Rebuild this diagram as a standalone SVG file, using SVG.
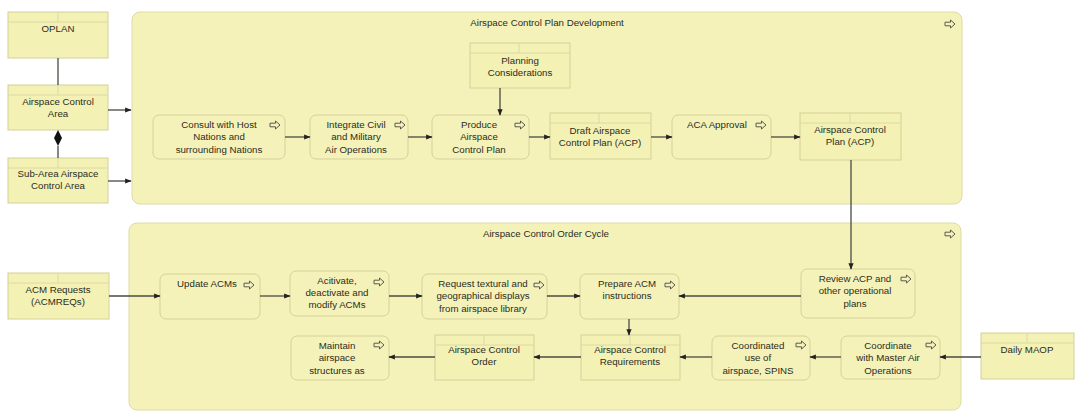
<svg xmlns="http://www.w3.org/2000/svg" xmlns:xlink="http://www.w3.org/1999/xlink" width="1076" height="412" viewBox="0 0 1076 412">
<style>
.grp{fill:#f4f2b9;stroke:#dedaa4;stroke-width:1}
.proc{fill:#f4f2b9;stroke:#d4d09a;stroke-width:1}
.obj{fill:#f3f1b3;stroke:#d4d09a;stroke-width:1}
.hdr{stroke:#dcd8a6;stroke-width:1;fill:none}
.t{font-family:"Liberation Sans",Arial,sans-serif;font-size:9.7px;fill:#2c2c22;text-anchor:middle}
.c{stroke:#4a4a42;stroke-width:1.3;fill:none}
.icon{fill:none;stroke:#5a5a50;stroke-width:1}
</style>
<defs>
<marker id="arr" viewBox="0 0 10 10" refX="9" refY="5" markerWidth="5" markerHeight="5" orient="auto"><path d="M0,1 L10,5 L0,9 Z" fill="#222"/></marker>
<path id="pi" d="M-5,-1.8 H0.5 V-4 L5,0 L0.5,4 V1.8 H-5 Z"/>
</defs>
<rect width="1076" height="412" fill="#ffffff"/>

<g id="grp-acpd">
<rect class="grp" x="132" y="12" width="830" height="192" rx="8"/>
<text class="t" x="547" y="26">Airspace Control Plan Development</text>
<use href="#pi" class="icon" x="950" y="24"/>
</g>
<g id="grp-acoc">
<rect class="grp" x="129" y="223" width="832" height="187" rx="8"/>
<text class="t" x="546" y="237">Airspace Control Order Cycle</text>
<use href="#pi" class="icon" x="950" y="234"/>
</g>

<g id="oplan">
<rect class="obj" x="8" y="12" width="100" height="46"/>
<path class="hdr" d="M8,22 H108 M58,12 V22"/>
<text class="t" x="58" y="32">OPLAN</text>
</g>
<g id="aca">
<rect class="obj" x="8" y="85" width="100" height="45"/>
<path class="hdr" d="M8,95 H108 M58,85 V95"/>
<text class="t" x="58" y="105">Airspace Control</text>
<text class="t" x="58" y="117">Area</text>
</g>
<g id="subaca">
<rect class="obj" x="8" y="158" width="100" height="45"/>
<path class="hdr" d="M8,168 H108 M58,158 V168"/>
<text class="t" x="58" y="177">Sub-Area Airspace</text>
<text class="t" x="58" y="189">Control Area</text>
</g>

<g id="consult">
<rect class="proc" x="153" y="115" width="132" height="44" rx="6"/>
<text class="t" x="219" y="128">Consult with Host</text>
<text class="t" x="219" y="140">Nations and</text>
<text class="t" x="219" y="153">surrounding Nations</text>
<use href="#pi" class="icon" x="275" y="125"/>
</g>
<g id="integrate">
<rect class="proc" x="310" y="115" width="98" height="44" rx="6"/>
<text class="t" x="356" y="128">Integrate Civil</text>
<text class="t" x="356" y="140">and Military</text>
<text class="t" x="356" y="153">Air Operations</text>
<use href="#pi" class="icon" x="400" y="125"/>
</g>
<g id="produce">
<rect class="proc" x="432" y="115" width="97" height="44" rx="6"/>
<text class="t" x="479" y="128">Produce</text>
<text class="t" x="479" y="140">Airspace</text>
<text class="t" x="479" y="153">Control Plan</text>
<use href="#pi" class="icon" x="520" y="125"/>
</g>
<g id="planning">
<rect class="obj" x="470" y="43" width="100" height="45"/>
<path class="hdr" d="M470,53 H570 M519,43 V53"/>
<text class="t" x="520" y="64">Planning</text>
<text class="t" x="520" y="76">Considerations</text>
</g>
<g id="draft">
<rect class="obj" x="550" y="113" width="101" height="46"/>
<path class="hdr" d="M550,123 H651 M599,113 V123"/>
<text class="t" x="600" y="134">Draft Airspace</text>
<text class="t" x="600" y="146">Control Plan (ACP)</text>
</g>
<g id="acaapproval">
<rect class="proc" x="672" y="115" width="99" height="44" rx="6"/>
<text class="t" x="717" y="128">ACA Approval</text>
<use href="#pi" class="icon" x="761" y="125"/>
</g>
<g id="acp">
<rect class="obj" x="800" y="113" width="101" height="47"/>
<path class="hdr" d="M800,123 H901 M850,113 V123"/>
<text class="t" x="850" y="133">Airspace Control</text>
<text class="t" x="850" y="145">Plan (ACP)</text>
</g>

<g id="acmreq">
<rect class="obj" x="8" y="273" width="101" height="46"/>
<path class="hdr" d="M8,283 H109 M58,273 V283"/>
<text class="t" x="58" y="293">ACM Requests</text>
<text class="t" x="58" y="305">(ACMREQs)</text>
</g>
<g id="update">
<rect class="proc" x="160" y="274" width="100" height="45" rx="6"/>
<text class="t" x="207" y="287">Update ACMs</text>
<use href="#pi" class="icon" x="249" y="285"/>
</g>
<g id="activate">
<rect class="proc" x="290" y="271" width="99" height="45" rx="6"/>
<text class="t" x="337" y="284">Acitivate,</text>
<text class="t" x="337" y="296">deactivate and</text>
<text class="t" x="337" y="308">modify ACMs</text>
<use href="#pi" class="icon" x="379" y="282"/>
</g>
<g id="request">
<rect class="proc" x="422" y="274" width="125" height="45" rx="6"/>
<text class="t" x="483" y="287">Request textural and</text>
<text class="t" x="483" y="299">geographical displays</text>
<text class="t" x="483" y="312">from airspace library</text>
<use href="#pi" class="icon" x="539" y="285"/>
</g>
<g id="prepare">
<rect class="proc" x="580" y="274" width="99" height="45" rx="6"/>
<text class="t" x="627" y="287">Prepare ACM</text>
<text class="t" x="627" y="299">instructions</text>
<use href="#pi" class="icon" x="670" y="285"/>
</g>
<g id="review">
<rect class="proc" x="801" y="269" width="114" height="49" rx="6"/>
<text class="t" x="855" y="282">Review ACP and</text>
<text class="t" x="855" y="294">other operational</text>
<text class="t" x="855" y="307">plans</text>
<use href="#pi" class="icon" x="906" y="279"/>
</g>
<g id="acr">
<rect class="obj" x="581" y="335" width="99" height="45"/>
<path class="hdr" d="M581,345 H680 M630,335 V345"/>
<text class="t" x="630" y="353">Airspace Control</text>
<text class="t" x="630" y="365">Requirements</text>
</g>
<g id="aco">
<rect class="obj" x="435" y="335" width="99" height="45"/>
<path class="hdr" d="M435,345 H534 M484,335 V345"/>
<text class="t" x="484" y="353">Airspace Control</text>
<text class="t" x="484" y="365">Order</text>
</g>
<g id="maintain">
<rect class="proc" x="291" y="336" width="98" height="44" rx="6"/>
<text class="t" x="337" y="349">Maintain</text>
<text class="t" x="337" y="361">airspace</text>
<text class="t" x="337" y="374">structures as</text>
<use href="#pi" class="icon" x="379" y="345"/>
</g>
<g id="coordinated">
<rect class="proc" x="712" y="336" width="98" height="44" rx="6"/>
<text class="t" x="758" y="349">Coordinated</text>
<text class="t" x="758" y="361">use of</text>
<text class="t" x="758" y="374">airspace, SPINS</text>
<use href="#pi" class="icon" x="801" y="345"/>
</g>
<g id="coordinate">
<rect class="proc" x="841" y="336" width="99" height="43" rx="6"/>
<text class="t" x="888" y="349">Coordinate</text>
<text class="t" x="888" y="361">with Master Air</text>
<text class="t" x="888" y="374">Operations</text>
<use href="#pi" class="icon" x="931" y="345"/>
</g>
<g id="dailymaop">
<rect class="obj" x="981" y="333" width="93" height="46"/>
<path class="hdr" d="M981,343 H1074 M1027,333 V343"/>
<text class="t" x="1027" y="353">Daily MAOP</text>
</g>

<g id="connectors">
<path class="c" d="M58,58 V85"/>
<path d="M58,130 L62,138 L58,146 L54,138 Z" fill="#111"/>
<path class="c" d="M58,146 V158"/>
<path class="c" d="M108,110 H131" marker-end="url(#arr)"/>
<path class="c" d="M108,181 H131" marker-end="url(#arr)"/>
<path class="c" d="M285,137 H310" marker-end="url(#arr)"/>
<path class="c" d="M408,137 H432" marker-end="url(#arr)"/>
<path class="c" d="M529,137 H550" marker-end="url(#arr)"/>
<path class="c" d="M651,137 H672" marker-end="url(#arr)"/>
<path class="c" d="M771,137 H800" marker-end="url(#arr)"/>
<path class="c" d="M500,88 V115" marker-end="url(#arr)"/>
<path class="c" d="M851,160 V269" marker-end="url(#arr)"/>
<path class="c" d="M109,296 H160" marker-end="url(#arr)"/>
<path class="c" d="M260,296 H290" marker-end="url(#arr)"/>
<path class="c" d="M389,296 H422" marker-end="url(#arr)"/>
<path class="c" d="M547,296 H580" marker-end="url(#arr)"/>
<path class="c" d="M801,296 H679" marker-end="url(#arr)"/>
<path class="c" d="M629,319 V335" marker-end="url(#arr)"/>
<path class="c" d="M581,357 H534" marker-end="url(#arr)"/>
<path class="c" d="M435,357 H389" marker-end="url(#arr)"/>
<path class="c" d="M841,357 H810" marker-end="url(#arr)"/>
<path class="c" d="M712,357 H680" marker-end="url(#arr)"/>
<path class="c" d="M981,357 H940" marker-end="url(#arr)"/>
</g>
</svg>
